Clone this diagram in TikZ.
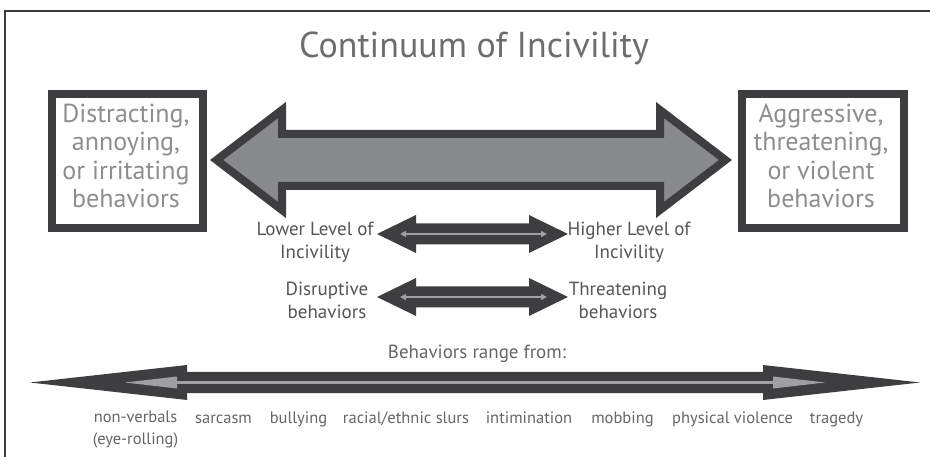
\documentclass[tikz,border=0pt]{standalone}
\usepackage{fontspec}
\setmainfont{PT Sans}
\usetikzlibrary{arrows.meta}
\definecolor{dk}{HTML}{3E3E40}
\definecolor{bigfill}{HTML}{898A8E}
\definecolor{titlecol}{HTML}{6D6D6D}
\definecolor{boxtext}{HTML}{8E8E8E}
\definecolor{midtext}{HTML}{555555}
\definecolor{bottext}{HTML}{666666}
\definecolor{lightline}{HTML}{A0A0A2}
\definecolor{framecol}{HTML}{3A3A3A}
\tikzset{
  framestyle/.style={draw=framecol, line width=1.5},
  bigarrow/.style={fill=bigfill, draw=dk, line width=8, line join=miter},
  darkarrow/.style={fill=dk},
  innerline/.style={draw=lightline, line width=1.8},
  innerhead/.style={fill=lightline},
  boxstyle/.style={draw=dk, line width=8, inner sep=0, outer sep=0},
  titletext/.style={text=titlecol, font=\fontsize{36}{40}\selectfont, inner sep=0},
  boxtextstyle/.style={text=boxtext, font=\fontsize{26}{28.4}\selectfont, align=center, inner sep=0},
  midlabel/.style={text=midtext, font=\fontsize{19}{23}\selectfont, align=center, inner sep=0},
  headlabel/.style={text=bottext, font=\fontsize{19}{23}\selectfont, inner sep=0},
  botlabel/.style={text=bottext, font=\fontsize{16.5}{22}\selectfont, align=center, inner sep=0}
}
\begin{document}
\begin{tikzpicture}[x=1pt,y=-1pt]
\useasboundingbox (0,0) rectangle (930,457);
\fill[white] (0,0) rectangle (930,457);
% frame
\draw[framestyle] (5,457) -- (5,11) -- (930,11);
% title
\node[titletext, anchor=base] (title) at (474,58) {Continuum of Incivility};
% side boxes
\node[boxstyle, minimum width=151, minimum height=134] (lbox) at (127.5,161) {};
\node[boxstyle, minimum width=162, minimum height=134] (rbox) at (823,161) {};
\node[boxtextstyle] (ltext) at (126,156) {Distracting,\\annoying,\\or irritating\\behaviors};
\node[boxtextstyle] (rtext) at (821,156) {Aggressive,\\threatening,\\or violent\\behaviors};
% big arrow
\draw[bigarrow] (216.6,160) -- (282,110) -- (282,134) -- (660,134) -- (660,110)
  -- (725.4,160) -- (660,210) -- (660,186) -- (282,186) -- (282,210) -- cycle;
% middle arrows
\fill[darkarrow] (377,234) -- (416,215) -- (416,223.5) -- (529,223.5) -- (529,215)
  -- (568,234) -- (529,253) -- (529,244.5) -- (416,244.5) -- (416,253) -- cycle;
\draw[innerline, {Triangle[length=6,width=6]}-{Triangle[length=6,width=6]}] (400,234) -- (547,234);
\fill[darkarrow] (377,297) -- (416,278) -- (416,286.5) -- (529,286.5) -- (529,278)
  -- (568,297) -- (529,316) -- (529,307.5) -- (416,307.5) -- (416,316) -- cycle;
\draw[innerline, {Triangle[length=6,width=6]}-{Triangle[length=6,width=6]}] (400,297) -- (547,297);
% middle labels
\node[midlabel] (low) at (315,242) {Lower Level of\\Incivility};
\node[midlabel] (high) at (629,242) {Higher Level of\\Incivility};
\node[midlabel] (disr) at (327,300) {Disruptive\\behaviors};
\node[midlabel] (thr) at (618,300) {Threatening\\behaviors};
% range heading
\node[headlabel, anchor=base] (range) at (477,359) {Behaviors range from:};
% bottom arrow
\fill[darkarrow] (30,382.5) -- (187,365) -- (187,372) -- (763,372) -- (763,365)
  -- (920,382.5) -- (763,400) -- (763,393) -- (187,393) -- (187,400) -- cycle;
\draw[innerline, line width=3] (176,382.5) -- (774,382.5);
\fill[innerhead] (125,382.5) -- (177,376.5) -- (177,388.5) -- cycle;
\fill[innerhead] (825,382.5) -- (773,376.5) -- (773,388.5) -- cycle;
% bottom labels
\node[botlabel] (w1) at (135.5,430) {non-verbals\\(eye-rolling)};
\node[botlabel, anchor=base] (w2) at (223.5,423) {sarcasm};
\node[botlabel, anchor=base] (w3) at (298.5,423) {bullying};
\node[botlabel, anchor=base] (w4) at (406,423) {racial/ethnic slurs};
\node[botlabel, anchor=base] (w5) at (529,423) {intimination};
\node[botlabel, anchor=base] (w6) at (622.5,423) {mobbing};
\node[botlabel, anchor=base] (w7) at (732.5,423) {physical violence};
\node[botlabel, anchor=base] (w8) at (836.5,423) {tragedy};
\end{tikzpicture}
\end{document}
